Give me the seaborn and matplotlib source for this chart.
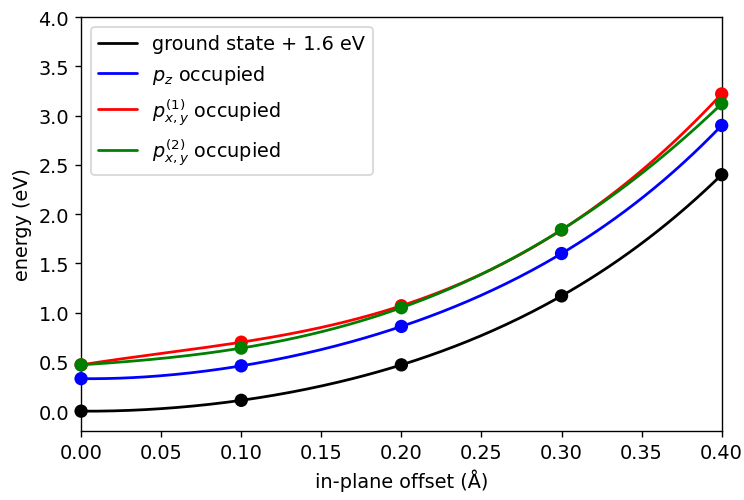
import numpy as np
import seaborn as sns
import matplotlib
matplotlib.use('Agg')
import matplotlib.pyplot as plt

# offsets and energies
offset = [0.0, 0.1, 0.2, 0.3, 0.4]
ground = [0.0, 0.11, 0.47, 1.17, 2.40]
pz = [0.33, 0.46, 0.86, 1.60, 2.90]
pxy1 = [0.47, 0.70, 1.07, 1.84, 3.22]
pxy2 = [0.47, 0.64, 1.05, 1.84, 3.12]

labels = ['ground state + 1.6 eV', r'$p_z$ occupied',
          r'$p_{x,y}^{(1)}$ occupied', r'$p_{x,y}^{(2)}$ occupied']
colors = ['black', 'blue', 'red', 'green']

sns.set_style('ticks', rc={'axes.edgecolor': 'black', 'text.color': 'black',
                           'axes.labelcolor': 'black', 'xtick.color': 'black',
                           'ytick.color': 'black'})
plt.rcParams['font.family'] = ['DejaVu Sans']
plt.rcParams['font.size'] = 11.2

fig, ax = plt.subplots(figsize=(6.0, 4.04), dpi=124)

x = np.array(offset)
xf = np.linspace(0, 0.4, 200)
for y, lab, c in zip([ground, pz, pxy1, pxy2], labels, colors):
    # smooth curve through the five points
    coef = np.polyfit(x, y, 4)
    yf = np.polyval(coef, xf)
    sns.lineplot(x=xf, y=yf, color=c, lw=1.6, label=lab, ax=ax)
    sns.scatterplot(x=x, y=y, color=c, s=60, edgecolor='none', ax=ax,
                    clip_on=False, zorder=3)

ax.set_xlim(0, 0.4)
ax.set_ylim(-0.2, 4.0)
ax.set_xticks(np.arange(0, 0.401, 0.05))
ax.set_yticks(np.arange(0, 4.01, 0.5))
ax.tick_params(labelsize=11.2)
ax.set_xlabel('in-plane offset (Å)', fontsize=11.2)
ax.set_ylabel('energy (eV)', fontsize=11.2)
for s in ax.spines.values():
    s.set_visible(True)
ax.legend(loc='upper left', frameon=True, fontsize=11.2)

fig.subplots_adjust(left=0.109, right=0.970, top=0.964, bottom=0.138)
plt.savefig('out.png', dpi=124)
